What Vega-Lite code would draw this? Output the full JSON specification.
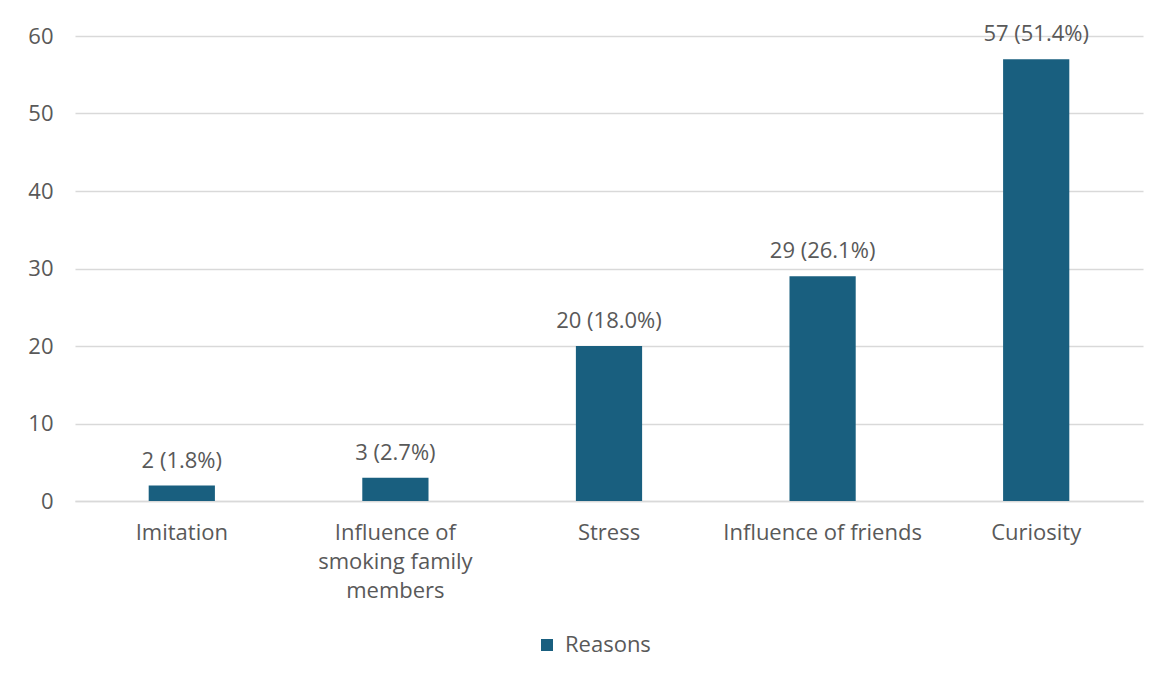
{
  "$schema": "https://vega.github.io/schema/vega-lite/v6.json",
  "autosize": {"type": "none"},
  "width": 1068,
  "height": 465,
  "padding": {"left": 75, "right": 24, "top": 36, "bottom": 177},
  "background": "white",
  "config": {
    "font": "Open Sans",
    "view": {"stroke": null}
  },
  "data": {
    "values": [
      {"reason": "Imitation", "count": 2, "label": "2 (1.8%)", "series": "Reasons"},
      {"reason": "Influence of smoking family members", "count": 3, "label": "3 (2.7%)", "series": "Reasons"},
      {"reason": "Stress", "count": 20, "label": "20 (18.0%)", "series": "Reasons"},
      {"reason": "Influence of friends", "count": 29, "label": "29 (26.1%)", "series": "Reasons"},
      {"reason": "Curiosity", "count": 57, "label": "57 (51.4%)", "series": "Reasons"}
    ]
  },
  "encoding": {
    "x": {
      "field": "reason",
      "type": "nominal",
      "sort": null,
      "scale": {"paddingInner": 0.69, "paddingOuter": 0.345},
      "axis": {
        "title": null,
        "labelAngle": 0,
        "labelFontSize": 22,
        "labelColor": "#595959",
        "labelPadding": 21,
        "labelLineHeight": 29,
        "labelLimit": 400,
        "labelOverlap": false,
        "labelExpr": "datum.value == 'Influence of smoking family members' ? ['Influence of', 'smoking family', 'members'] : datum.value",
        "ticks": false,
        "domainColor": "#d9d9d9",
        "domainWidth": 1.5,
        "grid": false
      }
    }
  },
  "layer": [
    {
      "mark": {"type": "bar", "color": "#195F7F"},
      "encoding": {
        "y": {
          "field": "count",
          "type": "quantitative",
          "scale": {"domain": [0, 60]},
          "axis": {
            "title": null,
            "values": [0, 10, 20, 30, 40, 50, 60],
            "labelFontSize": 22,
            "labelColor": "#595959",
            "labelPadding": 22,
            "ticks": false,
            "domain": false,
            "gridColor": "#d9d9d9",
            "gridWidth": 1.5
          }
        },
        "color": {
          "field": "series",
          "type": "nominal",
          "scale": {"range": ["#195F7F"]},
          "legend": {
            "title": null,
            "orient": "none",
            "legendX": 461,
            "legendY": 598,
            "direction": "horizontal",
            "symbolType": "square",
            "symbolSize": 144,
            "symbolStrokeWidth": 0,
            "labelOffset": 7,
            "labelFontSize": 22,
            "labelColor": "#595959"
          }
        }
      }
    },
    {
      "mark": {"type": "text", "baseline": "alphabetic", "dy": -18, "fontSize": 22, "color": "#595959"},
      "encoding": {
        "y": {"field": "count", "type": "quantitative"},
        "text": {"field": "label"}
      }
    }
  ]
}
